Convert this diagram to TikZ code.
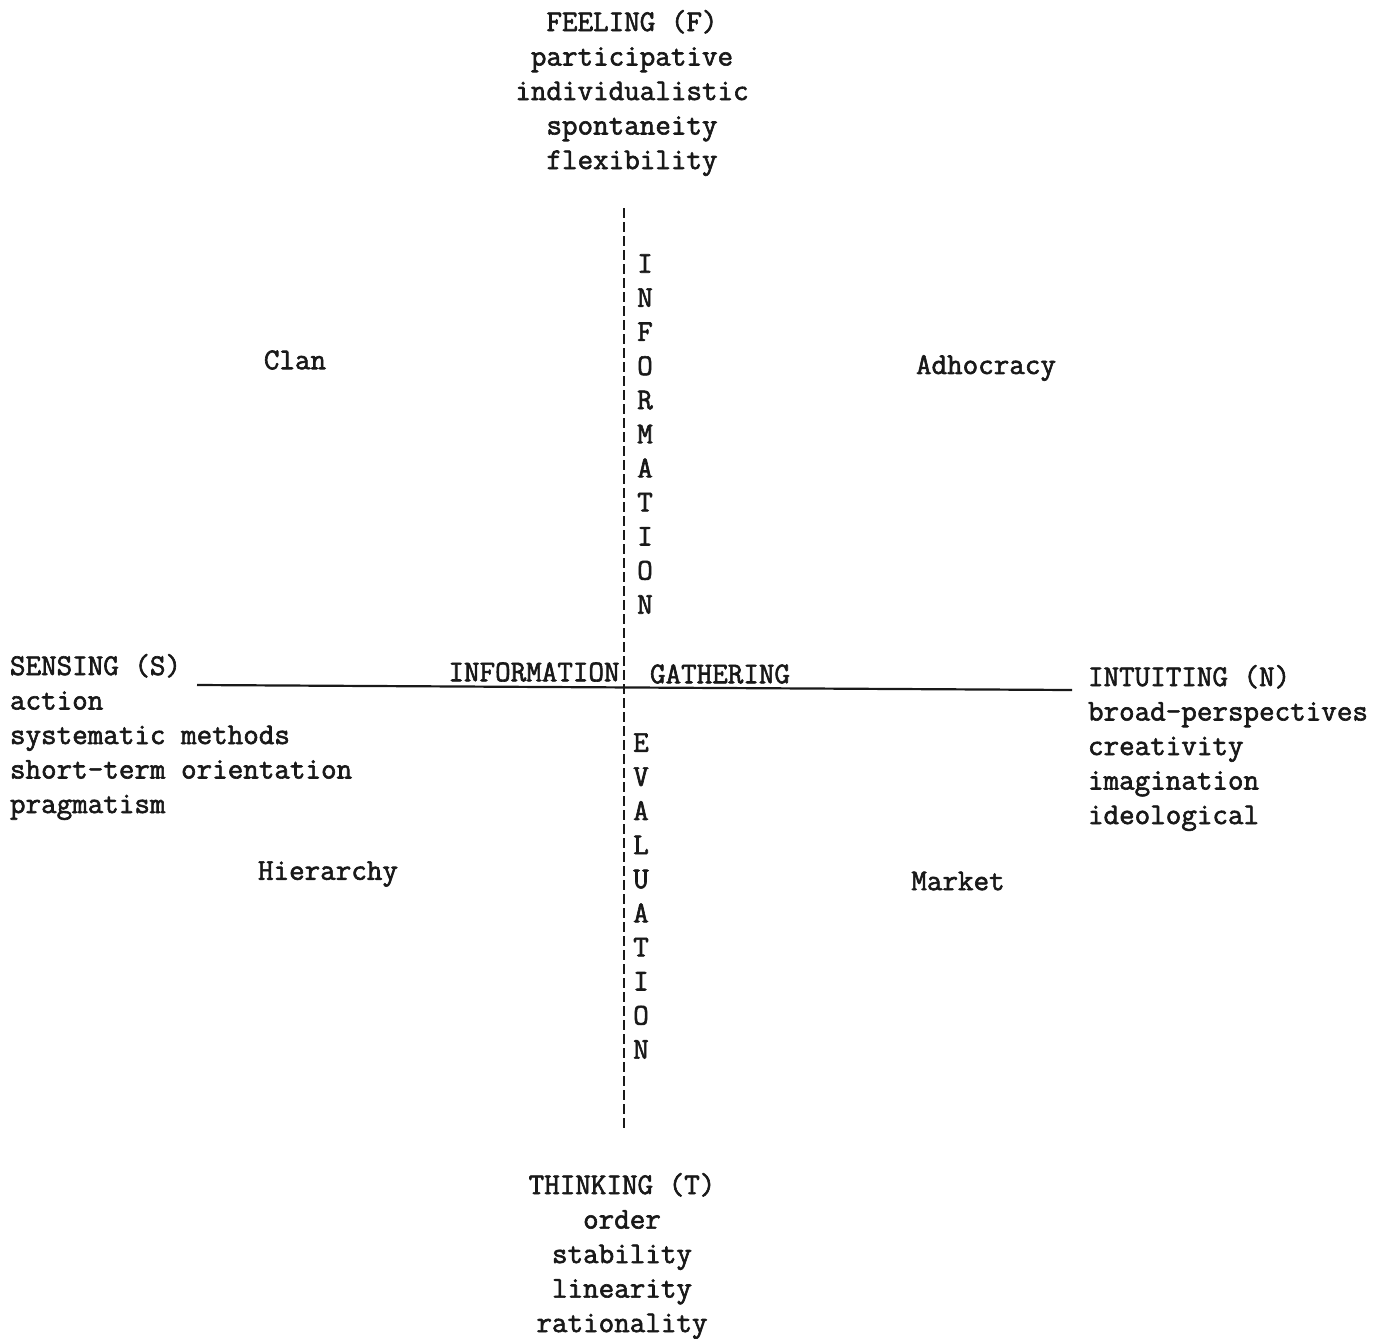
\documentclass[tikz,border=0pt]{standalone}
\usepackage{fontspec}
% typewriter face for every label
\newfontfamily\tw{Latin Modern Mono}[FakeBold=2]
\begin{document}
\begin{tikzpicture}[x=0.5pt, y=-0.5pt,
  every node/.style={inner sep=0pt, outer sep=0pt, text=black!90},
  typed/.style={font=\tw\fontsize{15.1pt}{17.25pt}\selectfont},
  blockc/.style={typed, align=center},
  blockl/.style={typed, align=left, anchor=west},
  column/.style={font=\tw\fontsize{15.1pt}{17.05pt}\selectfont, align=center},
  axis/.style={line width=1.1pt, black!90},
  dashaxis/.style={line width=1.2pt, black!90, dash pattern=on 5pt off 2pt}]
\useasboundingbox (0,0) rectangle (1384,1338);

% pole descriptions
\node[blockc] (feel) at (632,93)
  {FEELING (F)\\participative\\individualistic\\spontaneity\\flexibility};
\node[blockc] (think) at (622,1256)
  {THINKING (T)\\order\\stability\\linearity\\rationality};
\node[blockl] (sense) at (10,737)
  {SENSING (S)\\action\\systematic methods\\short-term orientation\\pragmatism};
\node[blockl] (intu) at (1088,748)
  {INTUITING (N)\\broad-perspectives\\creativity\\imagination\\ideological};

% quadrant names
\node[typed] (clan)  at (295,360) {Clan};
\node[typed] (adho)  at (986,368) {Adhocracy};
\node[typed] (hier)  at (328,874) {Hierarchy};
\node[typed] (mark)  at (958,881) {Market};

% axes
\coordinate (vtop) at (624,208);
\coordinate (vbot) at (624,1130);
\coordinate (hlft) at (197,685);
\coordinate (hrgt) at (1072,690);
\draw[axis] (hlft) -- (hrgt);
\draw[dashaxis] (vtop) -- (vbot);

% axis labels
\node[typed] (infoh) at (534,672) {INFORMATION};
\node[typed] (gath)  at (720,674) {GATHERING};
\node[column] (infov) at (645,434)
  {I\\N\\F\\O\\R\\M\\A\\T\\I\\O\\N};
\node[column] (evalv) at (641,896)
  {E\\V\\A\\L\\U\\A\\T\\I\\O\\N};
\end{tikzpicture}
\end{document}
